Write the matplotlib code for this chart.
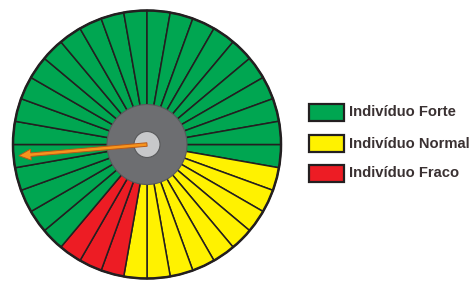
import numpy as np
import matplotlib.pyplot as plt
from matplotlib.patches import Circle, Rectangle

plt.rcParams["font.family"] = ["Liberation Sans", "DejaVu Sans"]

# categories and their colours
categories = ["Indivíduo Forte", "Indivíduo Normal", "Indivíduo Fraco"]
colors = {"Indivíduo Forte": "#00a651",
          "Indivíduo Normal": "#fff200",
          "Indivíduo Fraco": "#ed1c24"}

# runs of equal slices, clockwise from 3 o'clock
slice_runs = ["Indivíduo Forte", "Indivíduo Normal", "Indivíduo Fraco", "Indivíduo Forte"]
run_counts = [1, 9, 3, 23]

# pointer direction (degrees, counter-clockwise from 3 o'clock)
pointer_angle = 185

slices = [cat for cat, n in zip(slice_runs, run_counts) for _ in range(n)]

fig = plt.figure(figsize=(4.73, 2.82), dpi=100)
ax = fig.add_axes([0, 0, 1, 1])

cx, cy, R = 147, 282 - 144.5, 134
edge = "#231f20"

ax.pie(np.ones(len(slices)), colors=[colors[s] for s in slices],
       startangle=0, counterclock=False, center=(cx, cy), radius=R,
       wedgeprops=dict(edgecolor=edge, linewidth=1.1))
ax.add_patch(Circle((cx, cy), R, fill=False, edgecolor=edge, linewidth=1.8))
ax.add_patch(Circle((cx, cy), 40, facecolor="#6d6e71", edgecolor="#58595b", linewidth=0.8))
ax.add_patch(Circle((cx, cy), 13, facecolor="#c7c8ca", edgecolor="#58595b", linewidth=0.8))

L = 0.96 * R
dx = L * np.cos(np.radians(pointer_angle))
dy = L * np.sin(np.radians(pointer_angle))
ax.arrow(cx, cy, dx, dy, width=3.5, head_width=11, head_length=12,
         length_includes_head=True, facecolor="#f7941d", edgecolor="#b85a18",
         linewidth=0.7, zorder=5)

# legend
box_y = [112.5, 143.5, 173]
for cat, y in zip(categories, box_y):
    yy = 282 - y
    ax.add_patch(Rectangle((308.5, yy - 8.5), 35.5, 17, facecolor=colors[cat],
                           edgecolor=edge, linewidth=1.6))
    ax.text(349, yy, cat, ha="left", va="center", fontsize=10.6,
            fontweight="bold", color="#3a3132")

ax.set_xlim(0, 473)
ax.set_ylim(0, 282)
ax.set_aspect("auto")
ax.axis("off")

fig.savefig("out.png", dpi=100)
